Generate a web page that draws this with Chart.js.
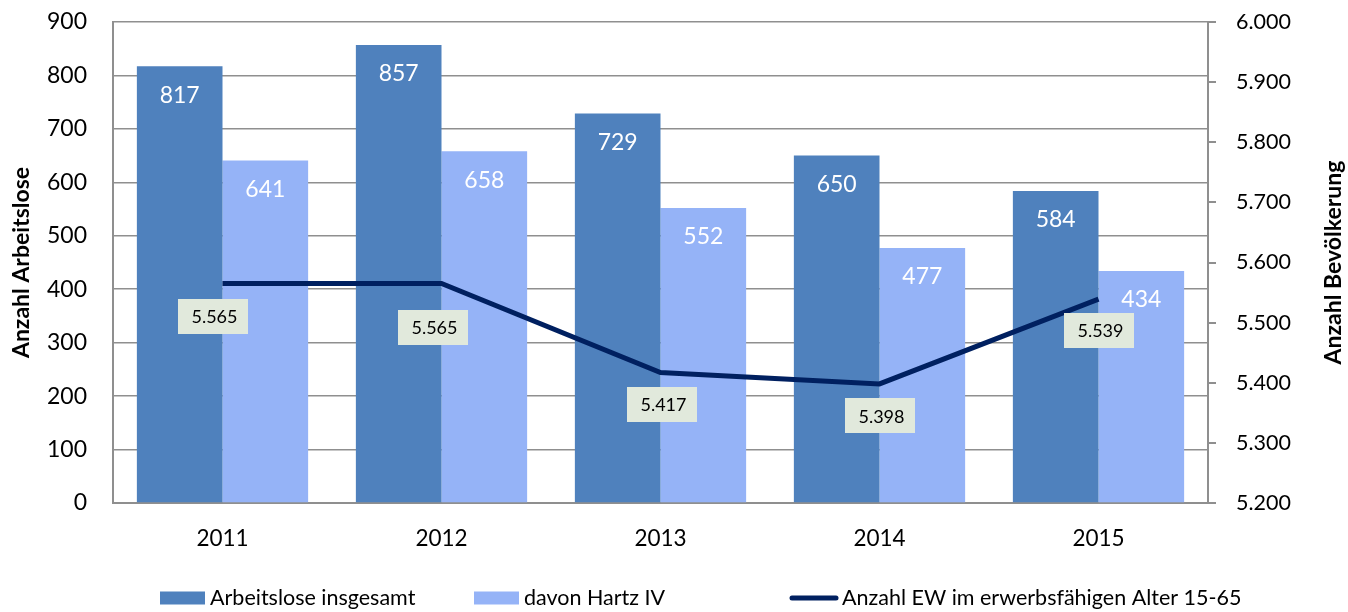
<!DOCTYPE html>
<html>
<head>
<meta charset="utf-8">
<script src="https://cdn.jsdelivr.net/npm/chart.js@4"></script>
<style>
  html, body { margin: 0; padding: 0; background: #ffffff; }
  #c { display: block; }
</style>
</head>
<body>
<canvas id="c" width="1348" height="612"></canvas>
<script>
// ---- data ----
const categories = ['2011', '2012', '2013', '2014', '2015'];
const arbeitslose = [817, 857, 729, 650, 584];
const hartz4 = [641, 658, 552, 477, 434];
const erwerbsfaehige = [5565, 5565, 5417, 5398, 5539];
const leftAxisRange = [0, 900, 100];
const rightAxisRange = [5200, 6000, 100];
const seriesNames = ['Arbeitslose insgesamt', 'davon Hartz IV', 'Anzahl EW im erwerbsfähigen Alter 15-65'];
const axisTitles = ['Anzahl Arbeitslose', 'Anzahl Bevölkerung'];

// ---- style ----
const DARK = '#4F81BD';
const LIGHT = '#95B3F7';
const NAVY = '#002060';
const GRID = '#8f8f8f';
const FONT = 'Lato';

function fmtDE(v) {
  const s = Math.round(v).toString();
  return s.length > 3 ? s.slice(0, -3) + '.' + s.slice(-3) : s;
}

const labelPlugin = {
  id: 'customLabels',
  afterDatasetsDraw(chart, args, opts) {
    const ctx = chart.ctx;
    ctx.save();
    // bar value labels
    ctx.font = '23px ' + FONT;
    ctx.fillStyle = '#ffffff';
    ctx.textAlign = 'center';
    ctx.textBaseline = 'middle';
    [1, 2].forEach(di => {
      const meta = chart.getDatasetMeta(di);
      meta.data.forEach((bar, i) => {
        ctx.fillText(String(chart.data.datasets[di].data[i]), bar.x, bar.y + 29);
      });
    });
    // line value labels in boxes
    const lmeta = chart.getDatasetMeta(0);
    ctx.font = '18px ' + FONT;
    lmeta.data.forEach((pt, i) => {
      const off = opts.offsets[i];
      const cx = pt.x + off[0], cy = pt.y + off[1];
      ctx.fillStyle = '#E1E9DC';
      ctx.fillRect(Math.round(cx - 35), Math.round(cy - 17.5), 70, 35);
      ctx.fillStyle = '#000000';
      ctx.fillText(fmtDE(chart.data.datasets[0].data[i]), cx + 2, cy + 1);
    });
    ctx.restore();
  },
  afterDraw(chart) {
    const ctx = chart.ctx;
    const area = chart.chartArea;
    const midY = (area.top + area.bottom) / 2;
    ctx.save();
    ctx.fillStyle = '#000000';
    ctx.font = 'bold 23px ' + FONT;
    ctx.textAlign = 'center';
    ctx.textBaseline = 'middle';
    // left title
    ctx.save();
    ctx.translate(22, midY);
    ctx.rotate(-Math.PI / 2);
    ctx.fillText(axisTitles[0], 0, 0);
    ctx.restore();
    // right title
    ctx.save();
    ctx.translate(1334, midY);
    ctx.rotate(-Math.PI / 2);
    ctx.fillText(axisTitles[1], 0, 0);
    ctx.restore();

    // legend
    const ly = 598;
    const slot = 315;
    const x0 = 160;
    ctx.font = '21.5px ' + FONT;
    ctx.textAlign = 'left';
    ctx.textBaseline = 'middle';
    // item 1
    ctx.fillStyle = DARK;
    ctx.fillRect(x0, ly - 6.5, 45, 13);
    ctx.fillStyle = '#000';
    ctx.fillText(seriesNames[0], x0 + 50, ly);
    // item 2
    ctx.fillStyle = LIGHT;
    ctx.fillRect(x0 + slot - 1, ly - 6.5, 45, 13);
    ctx.fillStyle = '#000';
    ctx.fillText(seriesNames[1], x0 + slot + 49, ly);
    // item 3
    ctx.strokeStyle = NAVY;
    ctx.lineWidth = 5;
    ctx.lineCap = 'round';
    ctx.beginPath();
    ctx.moveTo(x0 + 2 * slot + 2, ly);
    ctx.lineTo(x0 + 2 * slot + 46, ly);
    ctx.stroke();
    ctx.fillStyle = '#000';
    ctx.fillText(seriesNames[2], x0 + 2 * slot + 52, ly);
    ctx.restore();
  }
};

function fitV(width) {
  return s => { s.width = width; s.paddingTop = 0; s.paddingBottom = 0; };
}

new Chart(document.getElementById('c'), {
  type: 'bar',
  data: {
    labels: categories,
    datasets: [
      {
        type: 'line',
        label: seriesNames[2],
        data: erwerbsfaehige,
        yAxisID: 'y2',
        borderColor: NAVY,
        backgroundColor: NAVY,
        borderWidth: 5,
        pointRadius: 0,
        tension: 0,
        order: 0
      },
      {
        label: seriesNames[0],
        data: arbeitslose,
        yAxisID: 'y',
        backgroundColor: DARK,
        categoryPercentage: 0.782,
        barPercentage: 1.0,
        order: 1
      },
      {
        label: seriesNames[1],
        data: hartz4,
        yAxisID: 'y',
        backgroundColor: LIGHT,
        categoryPercentage: 0.782,
        barPercentage: 1.0,
        order: 1
      }
    ]
  },
  options: {
    responsive: false,
    animation: false,
    devicePixelRatio: 1,
    layout: { padding: { top: 22, left: 0, right: 0, bottom: 0 } },
    plugins: {
      legend: { display: false },
      tooltip: { enabled: false },
      customLabels: {
        offsets: [[-10, 33], [-9, 44], [1, 32], [0, 32], [0, 31]]
      }
    },
    scales: {
      x: {
        grid: { drawOnChartArea: false, drawTicks: false },
        border: { display: true, color: GRID, width: 2 },
        ticks: { color: '#000', font: { family: FONT, size: 22.5 }, padding: 22 },
        afterFit: s => { s.height = 109; s.paddingLeft = 0; s.paddingRight = 0; }
      },
      y: {
        position: 'left',
        min: leftAxisRange[0],
        max: leftAxisRange[1],
        ticks: { stepSize: leftAxisRange[2], color: '#000', font: { family: FONT, size: 23 }, padding: 26 },
        grid: { color: GRID, lineWidth: 1.5, drawTicks: false },
        border: { display: true, color: GRID, width: 2 },
        afterFit: fitV(113)
      },
      y2: {
        position: 'right',
        min: rightAxisRange[0],
        max: rightAxisRange[1],
        ticks: {
          stepSize: rightAxisRange[2],
          color: '#000',
          font: { family: FONT, size: 21.5 },
          padding: 20,
          callback: v => fmtDE(v)
        },
        grid: { drawOnChartArea: false, drawTicks: true, tickLength: 8, color: GRID, lineWidth: 2 },
        border: { display: true, color: GRID, width: 2 },
        afterFit: fitV(140)
      }
    }
  },
  plugins: [labelPlugin]
});
</script>
</body>
</html>
